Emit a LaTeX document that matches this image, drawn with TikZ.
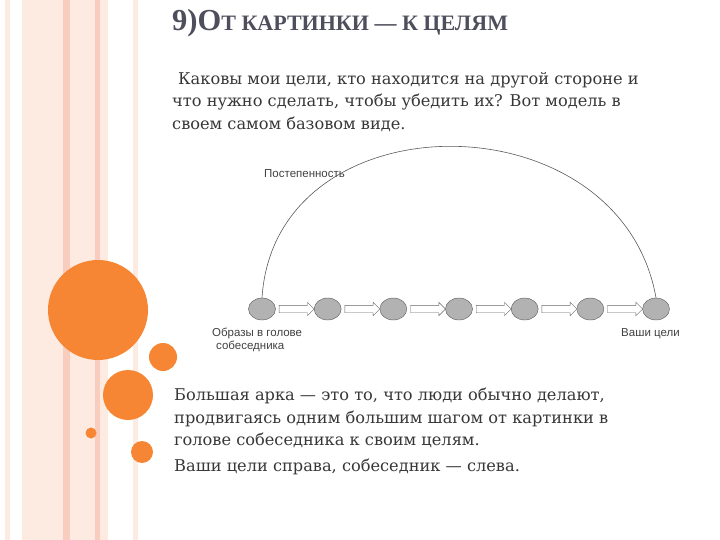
\documentclass[tikz,border=0pt]{standalone}
\usepackage{fontspec}
\setmainfont{DejaVu Serif}
\newfontfamily\diagfont{Liberation Sans}
\newfontfamily\titlefont{Liberation Serif}
\usetikzlibrary{shapes.geometric,shapes.arrows,calc}

\definecolor{slideorange}{RGB}{246,134,52}
\definecolor{stripelight}{RGB}{253,234,224}
\definecolor{stripedark}{RGB}{249,205,190}
\definecolor{titlegray}{RGB}{78,78,92}
\definecolor{textgray}{RGB}{55,55,55}
\definecolor{dotgray}{RGB}{178,178,178}

\begin{document}
\begin{tikzpicture}[x=1pt,y=-1pt,
  dot/.style={ellipse,draw=gray!70!black,fill=dotgray,minimum width=27pt,minimum height=22pt,inner sep=0pt},
  blockarrow/.style={single arrow,draw=gray!80!black,fill=white,minimum height=35pt,inner sep=3.5pt,single arrow head extend=3pt},
  bodytext/.style={anchor=north west,align=left,inner sep=0pt,text=textgray,font=\fontsize{16.2}{22.5}\selectfont},
  difftext/.style={text=gray!50!black,font=\diagfont\fontsize{11.5}{13}\selectfont,inner sep=0pt}]
\useasboundingbox (0,0) rectangle (720,540);

% Stripes on the left
\foreach \a/\b/\c in {5/10/stripelight,22/63/stripelight,63/70/stripedark,70/95/stripelight,95/100/stripedark,100/108/stripelight,133/138/stripelight}
  \fill[\c] (\a,0) rectangle (\b,540);

% Circles
\fill[slideorange] (98,310) circle (50);
\fill[slideorange] (163,357) circle (14);
\fill[slideorange] (128,395) circle (25);
\fill[slideorange] (91,433) circle (5.5);
\fill[slideorange] (142,452) circle (11);

% Title
\node[anchor=base west,inner sep=0pt,text=titlegray,font=\titlefont\bfseries] (title) at (172,31)
{{\fontsize{30.5}{30.5}\selectfont 9)О}{\fontsize{22}{22}\selectfont Т КАРТИНКИ — К ЦЕЛЯМ}};

% Text above
\node[bodytext] (intro) at (172,72)
{\hspace{6pt}Каковы мои цели, кто находится на другой стороне и\\
что нужно сделать, чтобы убедить их? Вот модель в\\
своем самом базовом виде.};

% Chain of images
\foreach \i in {1,...,7}
  \node[dot] (e\i) at ({262+65.67*(\i-1)},309) {};
\foreach \i [evaluate=\i as \j using int(\i+1)] in {1,...,6}
  \path (e\i) -- (e\j) node[midway,blockarrow] (arr\i) {};

% Big arc
\draw[gray!70!black,line width=0.6pt] (e1.north) .. controls +(13,-202) and +(-36,-202) .. (e7.north);

% Labels
\node[difftext,anchor=base west] (gradual) at (264,178) {Постепенность};
\node[difftext,anchor=north west,align=left] (start) at ($(e1.south)+(-50,8)$) {Образы в голове\\\hspace{4pt}собеседника};
\node[difftext,anchor=north west] (goal) at ($(e7.south)+(-35,8)$) {Ваши цели};

% Text below
\node[bodytext] (arcnote) at (174,388)
{Большая арка — это то, что люди обычно делают,\\
продвигаясь одним большим шагом от картинки в\\
голове собеседника к своим целям.};
\node[bodytext] (sides) at (174,459) {Ваши цели справа, собеседник — слева.};

\end{tikzpicture}
\end{document}
